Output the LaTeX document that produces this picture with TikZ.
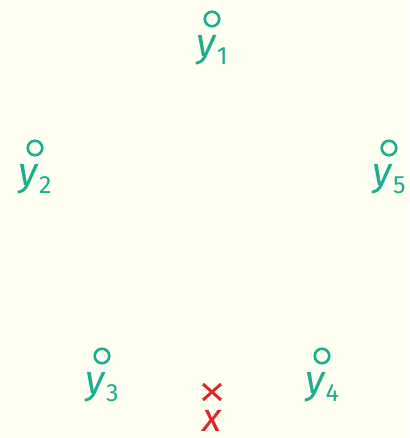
\documentclass[tikz,border=0pt]{standalone}
\usepackage{fontspec}
\setmainfont{Fira Sans}
\usetikzlibrary{positioning,shapes.misc}
\definecolor{ptgreen}{RGB}{26,174,140}
\definecolor{ptred}{RGB}{222,38,44}
\definecolor{paper}{RGB}{255,255,242}
\newcommand{\sublab}[2]{\textit{#1}\raisebox{-8pt}{\fontsize{25}{25}\selectfont #2}}
\begin{document}
\begin{tikzpicture}[x=1pt,y=1pt,
		obs/.style={circle,draw=ptgreen,line width=2.6pt,minimum size=14.5pt,inner sep=0pt},
		query/.style={cross out,draw=ptred,line width=3pt,minimum width=15pt,minimum height=13pt,inner sep=0pt},
		lab/.style={inner sep=0pt,anchor=base,font=\fontsize{40}{44}\selectfont}]
		\fill[paper] (0,0) rectangle (409,438);
		\useasboundingbox (0,0) rectangle (409,438);
		\foreach \n/\x/\y in {1/212/419,2/35/290,3/102/82,4/322/82,5/389/290}{
			\node[obs] (y\n) at (\x,\y) {};
			\node[lab,text=ptgreen] (l\n) at ([yshift=-38pt]y\n.center) {\sublab{y}{\n}};
		}
		\node[query] (x) at (212,46) {};
		\node[lab,text=ptred] (lx) at ([yshift=-40pt]x.center) {\textit{x}};
	\end{tikzpicture}
\end{document}
